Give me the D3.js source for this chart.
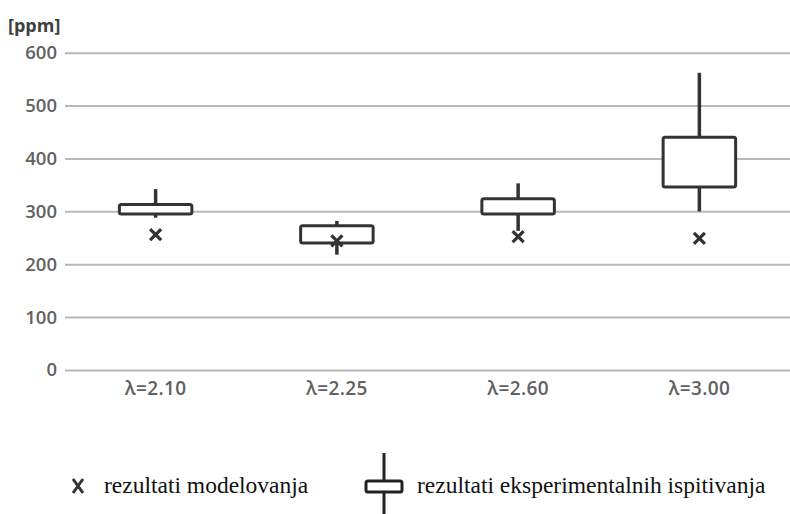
<!DOCTYPE html>
<html>
<head>
<meta charset="utf-8">
<script src="https://cdn.jsdelivr.net/npm/d3@7"></script>
<style>
  html, body { margin: 0; padding: 0; background: #fff; }
  svg { display: block; }
</style>
</head>
<body>
<svg id="chart" width="790" height="514"></svg>
<script>
// ---- data ----
const categories = ["λ=2.10", "λ=2.25", "λ=2.60", "λ=3.00"];
const whiskerLow  = [288, 218, 263, 300];
const boxLow      = [295, 240, 295, 346];
const boxHigh     = [313, 273, 324, 440];
const whiskerHigh = [342, 282, 353, 562];
const modelValues = [256, 244, 252, 249];
const yTicks = [0, 100, 200, 300, 400, 500, 600];
const yUnit = "[ppm]";
const legendLabels = ["rezultati modelovanja", "rezultati eksperimentalnih ispitivanja"];

// ---- layout ----
const svg = d3.select("#chart");
const mLeft = 65, mRight = 790, mTop = 52.7, mBottom = 370;
const dark = "#333333";
const gridColor = "#b8b8b8";
const labelColor = "#616161";

const x = d3.scaleBand().domain(categories).range([mLeft, mRight])
  .paddingInner(0.6).paddingOuter(0.3);
const y = d3.scaleLinear().domain([0, 600]).range([mBottom, mTop]);

// gridlines via axis
const yAxis = svg.append("g")
  .attr("transform", `translate(${mLeft},0)`)
  .call(d3.axisLeft(y).tickValues(yTicks).tickSize(-(mRight - mLeft)).tickPadding(8));
yAxis.select(".domain").remove();
yAxis.selectAll(".tick line").attr("stroke", gridColor).attr("stroke-width", 2);
yAxis.selectAll(".tick text")
  .attr("fill", labelColor)
  .style("font-family", "'Open Sans', sans-serif")
  .style("font-size", "18.5px")
  .style("font-weight", "600");

// x axis labels
const xAxis = svg.append("g")
  .attr("transform", `translate(0,${mBottom})`)
  .call(d3.axisBottom(x).tickSize(0).tickPadding(12));
xAxis.select(".domain").remove();
xAxis.selectAll(".tick text")
  .attr("fill", labelColor)
  .style("font-family", "'Open Sans', sans-serif")
  .style("font-size", "19px")
  .style("font-weight", "600")
  .style("letter-spacing", "0.4px");

// unit label
svg.append("text")
  .attr("x", 8).attr("y", 32)
  .attr("fill", "#404040")
  .style("font-family", "'Open Sans', sans-serif")
  .style("font-size", "18px")
  .style("font-weight", "700")
  .text(yUnit);

// boxes
const data = categories.map((c, i) => ({
  c, wl: whiskerLow[i], bl: boxLow[i], bh: boxHigh[i], wh: whiskerHigh[i], m: modelValues[i]
}));

const g = svg.append("g");
const bw = x.bandwidth();
data.forEach(d => {
  const cx = x(d.c) + bw / 2;
  g.append("line").attr("x1", cx).attr("x2", cx)
    .attr("y1", y(d.wh)).attr("y2", y(d.bh))
    .attr("stroke", dark).attr("stroke-width", 3.5);
  g.append("line").attr("x1", cx).attr("x2", cx)
    .attr("y1", y(d.bl)).attr("y2", y(d.wl))
    .attr("stroke", dark).attr("stroke-width", 3.5);
  g.append("rect")
    .attr("x", x(d.c)).attr("width", bw)
    .attr("y", y(d.bh)).attr("height", y(d.bl) - y(d.bh))
    .attr("rx", 2)
    .attr("fill", "#fff").attr("stroke", dark).attr("stroke-width", 3);
});

// model markers (x)
const xs = 5.5;
data.forEach(d => {
  const cx = x(d.c) + bw / 2, cy = y(d.m);
  g.append("path")
    .attr("d", `M${cx - xs},${cy - xs}L${cx + xs},${cy + xs}M${cx - xs},${cy + xs}L${cx + xs},${cy - xs}`)
    .attr("stroke", dark).attr("stroke-width", 3.2).attr("fill", "none");
});

// legend
const lg = svg.append("g");
const ly = 486;
const lx1 = 78;
lg.append("path")
  .attr("d", `M${lx1 - 5},${ly - 7}L${lx1 + 5},${ly + 7}M${lx1 - 5},${ly + 7}L${lx1 + 5},${ly - 7}`)
  .attr("stroke", "#333").attr("stroke-width", 3).attr("fill", "none");
lg.append("text")
  .attr("x", 104).attr("y", ly).attr("dy", "0.3em")
  .attr("fill", "#111")
  .style("font-family", "'Liberation Serif', serif")
  .style("font-size", "23.5px")
  .text(legendLabels[0]);

const lx2 = 384;
lg.append("line").attr("x1", lx2).attr("x2", lx2).attr("y1", 453).attr("y2", 514)
  .attr("stroke", "#222").attr("stroke-width", 3);
lg.append("rect").attr("x", lx2 - 18).attr("y", 481).attr("width", 36).attr("height", 11)
  .attr("rx", 2).attr("fill", "#fff").attr("stroke", "#222").attr("stroke-width", 3);
lg.append("text")
  .attr("x", 417).attr("y", ly).attr("dy", "0.3em")
  .attr("fill", "#111")
  .style("font-family", "'Liberation Serif', serif")
  .style("font-size", "23.5px")
  .text(legendLabels[1]);
</script>
</body>
</html>
